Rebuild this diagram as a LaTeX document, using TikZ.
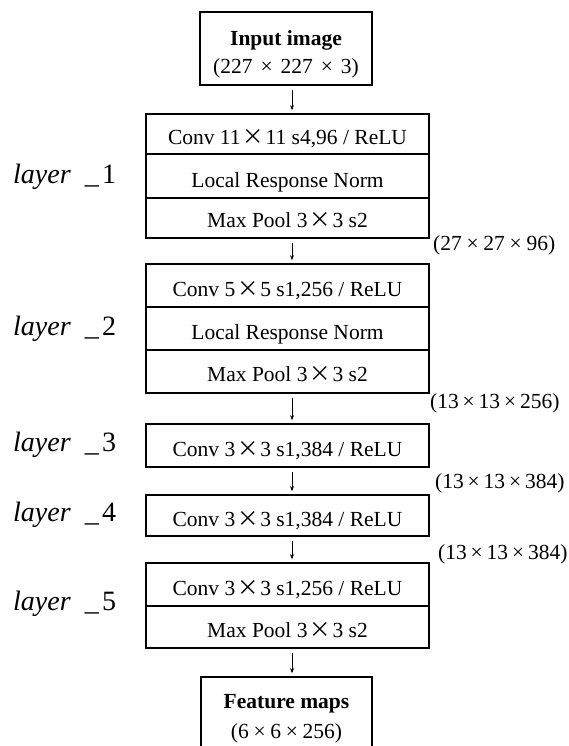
\documentclass[tikz,border=0pt]{standalone}
\usepackage{fontspec}
\setmainfont{Liberation Serif}
\newfontfamily\cjk[RawFeature=+fwid]{Noto Sans CJK SC}
\usetikzlibrary{arrows.meta}
\newcommand{\mybx}{\hspace{0.08em}{\cjk ×}\hspace{0.08em}}
\newcommand{\smx}[1][0.18em]{\hspace{#1}×\hspace{#1}}
\begin{document}
\begin{tikzpicture}[x=1pt,y=-1pt,
  box/.style={draw, line width=1.6pt, inner sep=0pt, align=center,
    font=\fontsize{21.5}{28}\selectfont},
  row/.style={box, minimum width=283pt, text height=22pt, text depth=0pt},
  lab/.style={anchor=west, inner sep=0pt, font=\fontsize{28}{32}\selectfont},
  dim/.style={anchor=west, inner sep=0pt, font=\fontsize{21.5}{26}\selectfont},
  arr/.style={line width=0.8pt, -{Stealth[length=5pt,width=4pt]}, shorten <=4pt, shorten >=3pt}]
\useasboundingbox (0,0) rectangle (568,746);
\coordinate (ax) at (292,0);
% input
\node[box, minimum width=172pt, minimum height=73pt] (in) at (286,48.5)
  {\rule{0pt}{27pt}\textbf{Input image}\\(227\smx[0.37em]227\smx[0.37em]3)};
% layer 1
\node[row, minimum height=40pt] (l1a) at (287.5,134) {Conv 11\mybx 11 s4,96 / ReLU};
\node[row, minimum height=44pt] (l1b) at (287.5,176) {Local Response Norm};
\node[row, minimum height=40pt, text height=19pt] (l1c) at (287.5,218) {Max Pool 3\mybx 3 s2};
% layer 2
\node[row, minimum height=43pt] (l2a) at (287.5,285.5) {Conv 5\mybx 5 s1,256 / ReLU};
\node[row, minimum height=43pt] (l2b) at (287.5,328.5) {Local Response Norm};
\node[row, minimum height=43pt, text height=20pt] (l2c) at (287.5,371.5) {Max Pool 3\mybx 3 s2};
% layer 3
\node[row, minimum height=43pt] (l3) at (287.5,445.5) {Conv 3\mybx 3 s1,384 / ReLU};
% layer 4
\node[row, minimum height=41pt] (l4) at (287.5,515.5) {Conv 3\mybx 3 s1,384 / ReLU};
% layer 5
\node[row, minimum height=43pt] (l5a) at (287.5,584.5) {Conv 3\mybx 3 s1,256 / ReLU};
\node[row, minimum height=42pt, text height=20pt] (l5b) at (287.5,627) {Max Pool 3\mybx 3 s2};
% output
\node[box, minimum width=171pt, minimum height=84pt] (out) at (286.5,719)
  {\textbf{Feature maps}\\[2pt](6\smx[0.22em]6\smx[0.22em]256)};
% arrows
\draw[arr] (in.south -| ax) -- (l1a.north -| ax);
\draw[arr] (l1c.south -| ax) -- (l2a.north -| ax);
\draw[arr] (l2c.south -| ax) -- (l3.north -| ax);
\draw[arr] (l3.south -| ax) -- (l4.north -| ax);
\draw[arr] (l4.south -| ax) -- (l5a.north -| ax);
\draw[arr] (l5b.south -| ax) -- (out.north -| ax);
% layer labels
\node[lab] (t1) at (13,177) {\textit{layer}\hspace{0.5em}\_\hspace{0.12em}1};
\node[lab] (t2) at (13,329) {\textit{layer}\hspace{0.5em}\_\hspace{0.12em}2};
\node[lab] (t3) at (13,445) {\textit{layer}\hspace{0.5em}\_\hspace{0.12em}3};
\node[lab] (t4) at (13,515) {\textit{layer}\hspace{0.5em}\_\hspace{0.12em}4};
\node[lab] (t5) at (13,604) {\textit{layer}\hspace{0.5em}\_\hspace{0.12em}5};
% dimension labels
\node[dim] (d1) at (433,245) {(27\smx[0.22em]27\smx[0.22em]96)};
\node[dim] (d2) at (430,403) {(13\smx 13\smx 256)};
\node[dim] (d3) at (435,483) {(13\smx 13\smx 384)};
\node[dim] (d4) at (438,554) {(13\smx 13\smx 384)};
\end{tikzpicture}
\end{document}
